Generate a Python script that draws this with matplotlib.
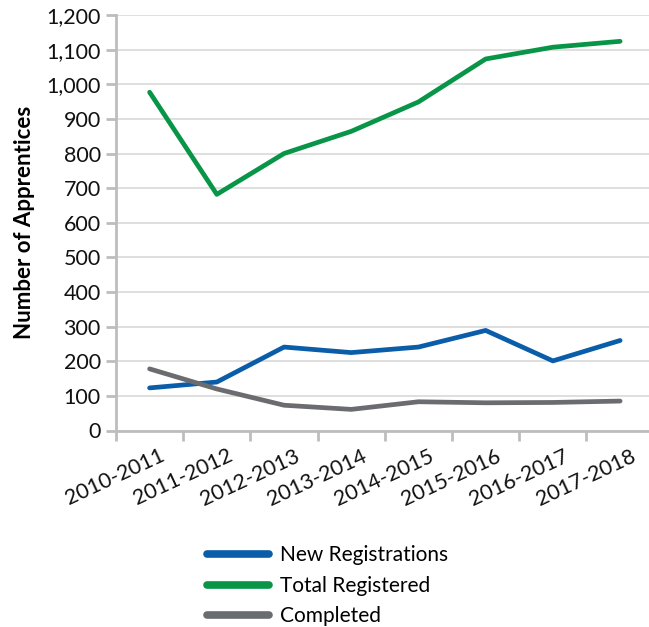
import numpy as np
import matplotlib
matplotlib.use("Agg")
import matplotlib.pyplot as plt
from matplotlib.ticker import FuncFormatter, FixedLocator

plt.rcParams['font.family'] = ['Lato', 'DejaVu Sans']

years = ["2010-2011", "2011-2012", "2012-2013", "2013-2014",
         "2014-2015", "2015-2016", "2016-2017", "2017-2018"]
new_reg = [123, 140, 241, 225, 241, 289, 201, 260]
total_reg = [977, 682, 800, 864, 949, 1073, 1107, 1124]
completed = [178, 120, 73, 61, 83, 80, 81, 85]

c_blue = "#0a5da8"
c_green = "#089547"
c_grey = "#6b6c70"
c_axis = "#bdbdbd"

fig = plt.figure(figsize=(6.49, 6.27), dpi=100)
ax = fig.add_axes([116/649, 1-430.5/627, 1-116/649, 415.5/627])

x = np.arange(len(years))
ax.plot(x, new_reg, color=c_blue, lw=3.4, solid_capstyle='round', solid_joinstyle='round', label="New Registrations")
ax.plot(x, total_reg, color=c_green, lw=3.4, solid_capstyle='round', solid_joinstyle='round', label="Total Registered")
ax.plot(x, completed, color=c_grey, lw=3.4, solid_capstyle='round', solid_joinstyle='round', label="Completed")

ax.set_xlim(-0.5, 7.43)
ax.set_ylim(0, 1200)
ax.set_yticks(np.arange(0, 1201, 100))
ax.yaxis.set_major_formatter(FuncFormatter(lambda v, p: f"{int(v):,}"))
ax.grid(axis='y', color="#dcdcdc", lw=1.3)
ax.set_axisbelow(True)

# category labels (a bit right of centre, as in the original), ticks on boundaries
ax.set_xticks(x + 0.15)
ax.set_xticklabels(years, rotation=25, ha='right', rotation_mode='anchor')
ax.xaxis.set_minor_locator(FixedLocator(np.arange(-0.5, 7.0, 1)))
ax.tick_params(axis='x', which='major', length=0, pad=11, labelsize=15.5, colors='#111111')
ax.tick_params(axis='x', which='minor', length=7, width=2, color=c_axis, direction='out')
ax.tick_params(axis='y', length=7, width=2, color=c_axis, labelsize=15.5, labelcolor='#111111', pad=4)

for s in ['top', 'right']:
    ax.spines[s].set_visible(False)
for s in ['left', 'bottom']:
    ax.spines[s].set_color(c_axis)
    ax.spines[s].set_linewidth(2)

ax.set_ylabel("Number of Apprentices", fontsize=16, fontweight='bold', labelpad=8)

leg = fig.legend(loc='upper left', bbox_to_anchor=(0.29, 0.16), frameon=False,
                 fontsize=15, handlelength=3.0, handletextpad=0.5, labelspacing=0.5)
for ln in leg.get_lines():
    ln.set_linewidth(5.5)
    ln.set_solid_capstyle('round')

fig.savefig("out.png", dpi=100)
